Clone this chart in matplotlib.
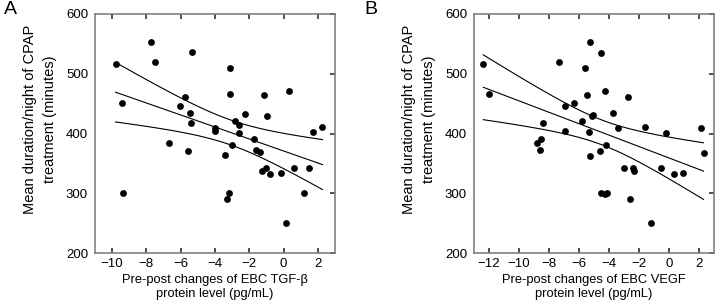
import numpy as np
import matplotlib
matplotlib.use('Agg')
import matplotlib.pyplot as plt

plt.rcParams['font.family'] = ['Liberation Sans', 'DejaVu Sans']

# panel A: pre-post change of EBC TGF-beta vs CPAP use (minutes/night)
tgf_x = [-9.8, -9.45, -9.37, -7.73, -7.49, -6.66, -6.02, -5.73, -5.48, -5.42,
         -5.55, -5.36, -4.0, -4.0, -3.44, -3.11, -3.15, -3.19, -3.32, -2.99,
         -2.86, -2.61, -2.61, -2.24, -1.74, -1.62, -1.35, -1.16, -0.94, -1.25,
         -1.02, -0.77, -0.15, 0.30, 0.12, 0.61, 1.19, 1.46, 1.73, 2.27]
tgf_y = [517, 452, 301, 554, 519, 384, 447, 462, 435, 417,
         371, 536, 410, 405, 364, 509, 466, 300, 291, 381,
         421, 414, 401, 433, 391, 372, 369, 465, 430, 337,
         343, 332, 335, 471, 250, 342, 300, 343, 403, 411]

# panel B: pre-post change of EBC VEGF vs CPAP use
vegf_x = [-12.38, -11.98, -8.8, -8.53, -8.6, -8.42, -7.35, -6.95, -6.95, -6.35,
          -5.82, -5.58, -5.27, -5.45, -5.35, -5.27, -5.16, -5.09, -4.55, -4.58,
          -4.55, -4.3, -4.15, -4.29, -4.2, -3.73, -3.42, -2.98, -2.75, -2.58,
          -2.42, -2.33, -1.58, -1.2, -0.51, -0.18, 0.35, 0.95, 2.15, 2.3]
vegf_y = [516, 466, 384, 391, 372, 418, 519, 447, 405, 451,
          421, 509, 553, 465, 402, 363, 429, 432, 535, 371,
          300, 299, 301, 471, 381, 435, 410, 343, 462, 291,
          342, 338, 411, 250, 343, 401, 332, 335, 410, 368]

yticks = [200, 300, 400, 500, 600]
T_CRIT = 2.024  # t(0.975, df=38)


def fit_band(x, y):
    x = np.asarray(x, float)
    y = np.asarray(y, float)
    n = len(x)
    b, a = np.polyfit(x, y, 1)
    resid = y - (a + b * x)
    s = np.sqrt(np.sum(resid ** 2) / (n - 2))
    sxx = np.sum((x - x.mean()) ** 2)
    xs = np.linspace(x.min(), x.max(), 100)
    ys = a + b * xs
    half = T_CRIT * s * np.sqrt(1.0 / n + (xs - x.mean()) ** 2 / sxx)
    return xs, ys, ys - half, ys + half


def panel(ax, x, y, xlim, xticks, xlabel):
    ax.scatter(x, y, s=24, color='black', zorder=3, linewidths=0)
    xs, ys, lo, hi = fit_band(x, y)
    for line in (ys, lo, hi):
        ax.plot(xs, line, color='black', lw=0.8)
    ax.set_xlim(*xlim)
    ax.set_ylim(200, 600)
    ax.set_xticks(xticks)
    ax.set_xticklabels(['\u2212%d' % -t if t < 0 else '%d' % t for t in xticks])
    ax.set_yticks(yticks)
    ax.tick_params(axis='x', direction='in', top=True, bottom=True,
                   length=3.8, width=1.1, labelsize=9.5, pad=3.5, color='#222222')
    ax.tick_params(axis='y', direction='in', left=False, right=True,
                   labelleft=True, length=3.8, width=1.1, labelsize=9.5,
                   pad=5, color='#222222')
    for sp in ax.spines.values():
        sp.set_color('#777777')
        sp.set_linewidth(1.1)
    ax.set_xlabel(xlabel, fontsize=9.3, linespacing=1.15, labelpad=3)


fig = plt.figure(figsize=(7.2, 3.04), dpi=100)
W, H = 720.0, 304.0
axA = fig.add_axes([95 / W, 1 - 253.3 / H, 240 / W, (253.3 - 14) / H])
axB = fig.add_axes([474 / W, 1 - 253.3 / H, 240 / W, (253.3 - 14) / H])

panel(axA, tgf_x, tgf_y, (-11, 3), [-10, -8, -6, -4, -2, 0, 2],
      'Pre-post changes of EBC TGF-\u03b2\nprotein level (pg/mL)')
panel(axB, vegf_x, vegf_y, (-13, 3), [-12, -10, -8, -6, -4, -2, 0, 2],
      'Pre-post changes of EBC VEGF\nprotein level (pg/mL)')

ylab = 'Mean duration/night of CPAP\ntreatment (minutes)'
fig.text(40 / W, 1 - 119 / H, ylab, rotation=90, ha='center', va='center',
         multialignment='center', fontsize=10.5, linespacing=1.5)
fig.text(419 / W, 1 - 119 / H, ylab, rotation=90, ha='center', va='center',
         multialignment='center', fontsize=10.5, linespacing=1.5)

fig.text(4 / W, 1 - 1 / H, 'A', fontsize=14, ha='left', va='top')
fig.text(364 / W, 1 - 1 / H, 'B', fontsize=14, ha='left', va='top')

fig.savefig('out.png', dpi=100)
